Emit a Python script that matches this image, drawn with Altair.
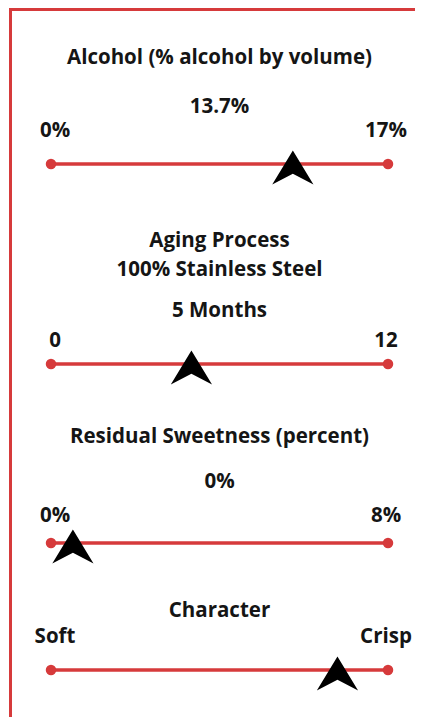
import altair as alt
import pandas as pd

# ---- data ----
titles = ["Alcohol (% alcohol by volume)", "Aging Process\n100% Stainless Steel",
          "Residual Sweetness (percent)", "Character"]
value_labels = ["13.7%", "5 Months", "0%", ""]
min_labels = ["0%", "0", "0%", "Soft"]
max_labels = ["17%", "12", "8%", "Crisp"]
scale_min = [0, 0, 0, 0]
scale_max = [17, 12, 8, 1]
marker_value = [12.2, 5.0, 0.52, 0.85]

# ---- layout (pixel rows, chart coords) ----
line_y = [156, 356, 535, 662]
title_y = [56, 239, 435, 609]
value_y = [105, 309, 480, 480]
label_y = [129, 339, 514, 635]

W, H = 407, 709
RED = "#d63a3b"
INK = "#151515"
FONT = "Open Sans"
FS = 20.5

g = pd.DataFrame({
    "title": titles, "value": value_labels, "lo": min_labels, "hi": max_labels,
    "smin": scale_min, "smax": scale_max, "mv": marker_value,
    "line_y": line_y, "title_y": title_y, "value_y": value_y, "label_y": label_y,
})
g["frac"] = (g["mv"] - g["smin"]) / (g["smax"] - g["smin"])
g["start"] = 0.0
g["end"] = 1.0
g["mid"] = 0.5

ends = pd.concat([
    g[["line_y"]].assign(pos=g["start"]),
    g[["line_y"]].assign(pos=g["end"]),
])

xs = alt.Scale(domain=[0, 1], range=[43, 380])
X = lambda f: alt.X(f, type="quantitative", scale=xs, axis=None)
Y = lambda f: alt.Y(f, type="quantitative", scale=None, axis=None)

base = alt.Chart(g)

lines = base.mark_rule(color=RED, strokeWidth=3.5).encode(
    x=X("start"), x2="end", y=Y("line_y"))

dots = alt.Chart(ends).mark_circle(color=RED, opacity=1, size=110).encode(
    x=X("pos"), y=Y("line_y"))

arrow = "M0,-0.83 L1,0.83 L0,0.3 L-1,0.83 Z"
markers = base.mark_point(shape=arrow, filled=True, color="#000000", opacity=1,
                          size=1700, yOffset=3.5, strokeWidth=0).encode(
    x=X("frac"), y=Y("line_y"))

txt = dict(font=FONT, fontSize=FS, fontWeight="bold", color=INK, baseline="alphabetic")

title_t = base.mark_text(align="center", lineBreak="\n", lineHeight=29, **txt).encode(
    x=X("mid"), y=Y("title_y"), text="title")
value_t = base.mark_text(align="center", **txt).encode(
    x=X("mid"), y=Y("value_y"), text="value")
lo_t = base.mark_text(align="center", dx=4, **txt).encode(
    x=X("start"), y=Y("label_y"), text="lo")
hi_t = base.mark_text(align="center", dx=-2, **txt).encode(
    x=X("end"), y=Y("label_y"), text="hi")

frame = pd.DataFrame({"k": [0]})
top_border = alt.Chart(frame).mark_rule(color=RED, strokeWidth=3).encode(
    x=alt.value(1), x2=alt.value(W), y=alt.value(1.5))
left_border = alt.Chart(frame).mark_rule(color=RED, strokeWidth=3).encode(
    x=alt.value(2.5), y=alt.value(0), y2=alt.value(H))

chart = alt.layer(
    top_border, left_border, lines, dots, markers, title_t, value_t, lo_t, hi_t
).properties(
    width=W, height=H, padding=0, autosize=alt.AutoSizeParams(type="none"),
    background="white",
).configure_view(stroke=None)

chart.save("out.html", embed_options={"renderer": "svg", "actions": False})
